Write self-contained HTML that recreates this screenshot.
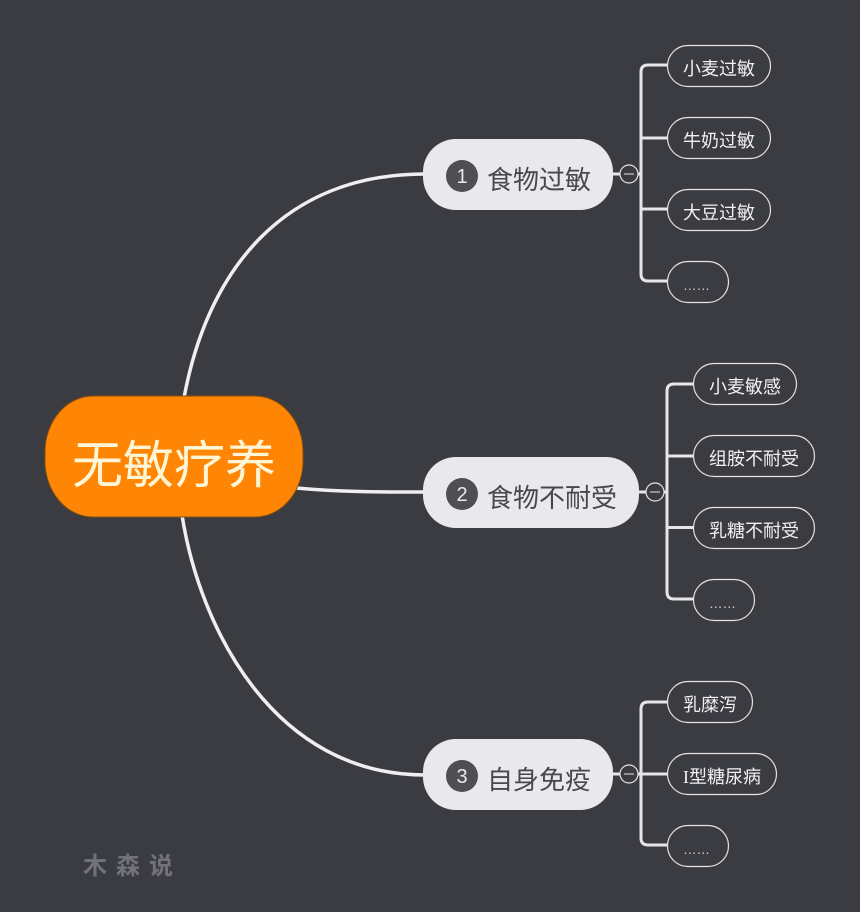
<!DOCTYPE html>
<html><head><meta charset="utf-8"><style>
html,body{margin:0;padding:0;background:#fff}
svg{display:block}
text{font-family:"Liberation Sans","Noto Sans CJK SC",sans-serif}
.l{fill:#f1f1f3;font-size:18px}
.e{fill:#d2d2d6;font-size:13.5px}
.t{fill:#47474c;font-size:26px}
.n{fill:#e9e9ee;font-size:20px;text-anchor:middle}
.leaf{fill:#3b3c42;stroke:#e4e4e8;stroke-width:1.2}
.c{fill:none;stroke:#eeeef3;stroke-width:3.5}
.b{fill:none;stroke:#e6e6ea;stroke-width:3}
.m{fill:#3b3c42;stroke:#e4e4e8;stroke-width:1.2}
</style></head><body>
<svg width="865" height="918" viewBox="0 0 865 918" xmlns="http://www.w3.org/2000/svg">
<rect width="860" height="912" fill="#3b3c42"/>
<path class="c" d="M184 398C208 268 285 174 425 174"/>
<path class="c" d="M182 515C200 630 275 775 425 775"/>
<path class="c" d="M296 488C340 492 380 492 425 492"/>

<path class="b" d="M613 174H641M668 65H648Q641 65 641 72V274Q641 281 648 281H668M641 138H668M641 209H668"/>
<path class="b" d="M639 492H667M694 384H674Q667 384 667 391V592Q667 599 674 599H694M667 456H694M667 527.500H694"/>
<path class="b" d="M613 774H668M668 702H648Q641 702 641 709V838Q641 845 648 845H668"/>

<rect x="45" y="396" width="258" height="121" rx="48" ry="56" fill="#ff8604" stroke="#8a4f0c" stroke-width="1"/>
<text x="72" y="483" font-size="51" fill="#fff6d8">无敏疗养</text>

<rect x="423" y="139" width="190" height="71" rx="33" fill="#e8e8ed"/>
<circle cx="462" cy="176" r="16" fill="#4f4f53"/>
<text class="n" x="462" y="183">1</text>
<text class="t" x="487" y="189">食物过敏</text>

<rect x="423" y="457" width="216" height="71" rx="33" fill="#e8e8ed"/>
<circle cx="462" cy="494" r="16" fill="#4f4f53"/>
<text class="n" x="462" y="501">2</text>
<text class="t" x="487" y="507">食物不耐受</text>

<rect x="423" y="739" width="190" height="71" rx="33" fill="#e8e8ed"/>
<circle cx="462" cy="776" r="16" fill="#4f4f53"/>
<text class="n" x="462" y="783">3</text>
<text class="t" x="487" y="789">自身免疫</text>

<circle class="m" cx="629" cy="174" r="9"/><path d="M624 174H634" stroke="#e4e4e8" stroke-width="1"/>
<circle class="m" cx="655" cy="492" r="9"/><path d="M650 492H660" stroke="#e4e4e8" stroke-width="1"/>
<circle class="m" cx="629" cy="774" r="9"/><path d="M624 774H634" stroke="#e4e4e8" stroke-width="1"/>

<rect class="leaf" x="667.500" y="45.500" width="103" height="41" rx="20.500"/><text class="l" x="683" y="75">小麦过敏</text>
<rect class="leaf" x="667.500" y="117.500" width="103" height="41" rx="20.500"/><text class="l" x="683" y="147">牛奶过敏</text>
<rect class="leaf" x="667.500" y="189.500" width="103" height="41" rx="20.500"/><text class="l" x="683" y="219">大豆过敏</text>
<rect class="leaf" x="667.500" y="261.500" width="61" height="41" rx="20.500"/><text class="e" x="683" y="290">……</text>

<rect class="leaf" x="693.500" y="363.500" width="103" height="41" rx="20.500"/><text class="l" x="709" y="393">小麦敏感</text>
<rect class="leaf" x="693.500" y="435.500" width="121" height="41" rx="20.500"/><text class="l" x="709" y="465">组胺不耐受</text>
<rect class="leaf" x="693.500" y="507.500" width="121" height="41" rx="20.500"/><text class="l" x="709" y="537">乳糖不耐受</text>
<rect class="leaf" x="693.500" y="579.500" width="61" height="41" rx="20.500"/><text class="e" x="709" y="608">……</text>

<rect class="leaf" x="667.500" y="681.500" width="85" height="41" rx="20.500"/><text class="l" x="683" y="711">乳糜泻</text>
<rect class="leaf" x="667.500" y="753.500" width="109" height="41" rx="20.500"/><text class="l" x="683" y="783"><tspan style="font-family:'Liberation Serif',serif">I</tspan>型糖尿病</text>
<rect class="leaf" x="667.500" y="825.500" width="61" height="41" rx="20.500"/><text class="e" x="683" y="854">……</text>

<text x="83" y="874" font-size="24" font-weight="700" fill="#72727a" letter-spacing="9">木森说</text>
</svg>
</body></html>
